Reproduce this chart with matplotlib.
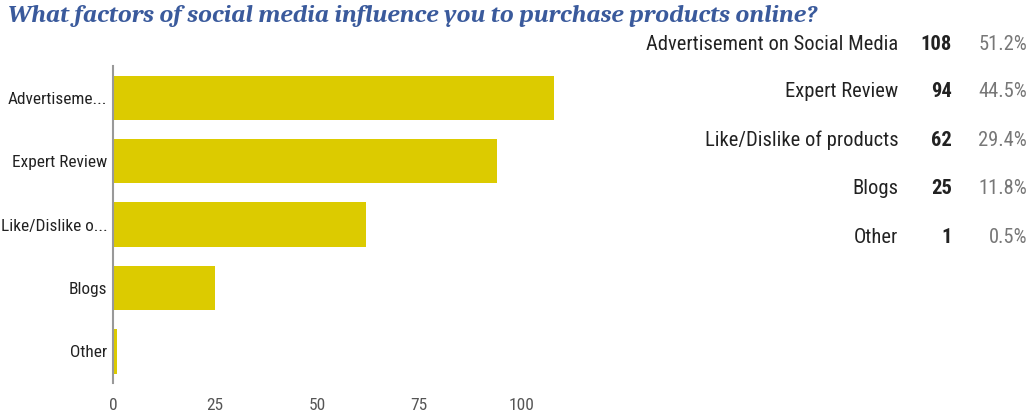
import matplotlib.pyplot as plt

categories = ['Advertisement on Social Media', 'Expert Review', 'Like/Dislike of products', 'Blogs', 'Other']
short_labels = ['Advertiseme...', 'Expert Review', 'Like/Dislike o...', 'Blogs', 'Other']
counts = [108, 94, 62, 25, 1]
percents = ['51.2%', '44.5%', '29.4%', '11.8%', '0.5%']
xticks = [0, 25, 50, 75, 100]

narrow = ['Roboto Condensed', 'Archivo Narrow', 'DejaVu Sans']
serif = ['Caladea', 'Liberation Serif', 'DejaVu Serif']

fig = plt.figure(figsize=(10.3, 4.16), dpi=100)
ax = fig.add_axes([0.1097, 0.079, 0.434, 0.762])

y = list(range(len(categories)))
ax.barh(y, counts, height=0.7, color='#dccb00')
ax.set_ylim(len(categories) - 0.5, -0.5)
ax.set_xlim(0, 109.5)
ax.set_yticks(y)
ax.set_yticklabels(short_labels, fontfamily=narrow, fontsize=12.4, color='#222222')
ax.set_xticks(xticks)
ax.set_xticklabels([str(t) for t in xticks], fontfamily=narrow, fontsize=12.5, color='#555555')
ax.tick_params(axis='y', length=0, pad=4)
ax.tick_params(axis='x', length=0, pad=11)
for s in ['top', 'right', 'bottom']:
    ax.spines[s].set_visible(False)
ax.spines['left'].set_color('#999999')
ax.spines['left'].set_linewidth(1.5)

fig.text(0.008, 0.962, 'What factors of social media influence you to purchase products online?',
         fontfamily=serif, fontstyle='italic', fontweight='bold',
         fontsize=18.2, color='#3a5a9c', va='center', ha='left')

rows_y = [0.892, 0.779, 0.663, 0.548, 0.430]
for cat, c, p, yy in zip(categories, counts, percents, rows_y):
    fig.text(0.872, yy, cat, fontfamily=narrow, fontsize=14.8, color='#222222', ha='right', va='center')
    fig.text(0.924, yy, str(c), fontfamily=narrow, fontsize=14.8, fontweight='bold', color='#222222', ha='right', va='center')
    fig.text(0.997, yy, p, fontfamily=narrow, fontsize=14.8, color='#777777', ha='right', va='center')

fig.savefig('out.png', dpi=100)
